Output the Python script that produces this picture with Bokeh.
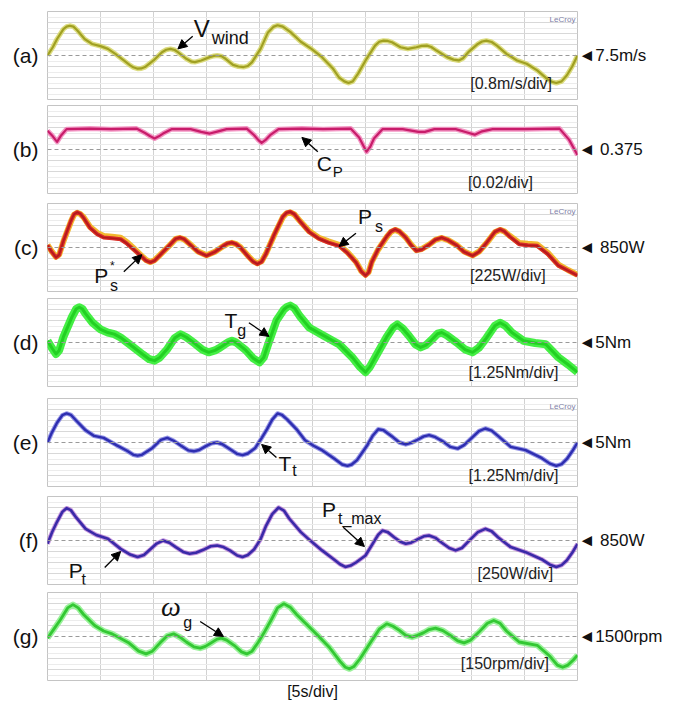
from bokeh.plotting import figure
from bokeh.layouts import column
from bokeh.models import (Range1d, FixedTicker, LinearAxis, Grid, Span, Label, Arrow,
                          NormalHead, CustomJSTickFormatter)
from bokeh.embed import file_html
from bokeh.resources import INLINE
import json

FONT = "Liberation Sans"

# ---------------- data (time in s, values in physical units) ----------------
t_a = [0, 0.5, 0.9, 1.5, 1.8, 2.1, 2.45, 2.8, 3.5, 4.2, 5.0, 5.7, 6.4, 7.2, 7.8, 8.1, 8.5, 8.85, 9.2, 10.0,
       10.8, 11.2, 11.6, 12.0, 12.3, 13.1, 13.6, 13.9, 14.5, 15.3, 15.7, 16.0, 16.4, 16.8, 17.5, 18.0, 18.5, 18.9,
       19.3, 20.1, 20.8, 21.3, 21.7, 22.2, 22.9, 23.9, 24.9, 25.9, 26.9, 27.5, 28.0, 28.4, 28.8, 29.3, 30.1, 30.9,
       31.3, 31.7, 32.1, 32.5, 33.3, 34.0, 34.8, 35.3, 35.8, 36.2, 36.7, 37.7, 38.3, 38.8, 39.2, 39.7, 40.6, 41.0,
       41.4, 41.9, 42.4, 43.3, 44.3, 45.2, 46.2, 47.1, 47.6, 48.0, 48.5, 49.0, 49.5, 50.0]
v_wind = [7.50, 8.10, 8.70, 9.42, 9.60, 9.66, 9.60, 9.34, 8.70, 8.34, 8.18, 7.98, 7.62, 7.14, 6.78, 6.64, 6.54,
          6.56, 6.66, 7.14, 7.74, 7.92, 7.98, 7.90, 7.74, 7.26, 7.05, 7.02, 7.14, 7.38, 7.47, 7.50, 7.45, 7.26,
          6.82, 6.70, 6.66, 6.74, 7.02, 7.98, 9.18, 9.58, 9.70, 9.60, 9.22, 8.50, 7.98, 7.38, 6.58, 5.90, 5.62,
          5.50, 5.62, 6.18, 7.26, 8.22, 8.50, 8.58, 8.56, 8.46, 8.10, 7.98, 8.10, 8.20, 8.22, 8.12, 7.86, 7.38,
          7.20, 7.14, 7.30, 7.74, 8.34, 8.52, 8.58, 8.48, 8.22, 7.62, 7.14, 6.90, 6.42, 5.82, 5.58, 5.50, 5.62,
          6.06, 6.70, 7.50]

t_b = [0, 0.5, 0.9, 1.3, 1.8, 4.0, 6.0, 8.4, 9.2, 9.7, 10.1, 10.5, 10.9, 11.7, 13.5, 14.5, 15.3, 16.1, 16.9, 18.8,
       19.5, 19.9, 20.2, 20.55, 21.0, 21.8, 24.0, 26.0, 28.6, 29.4, 29.8, 30.1, 30.45, 30.8, 31.6, 33.5, 35.0,
       35.6, 36.5, 38.5, 39.6, 40.3, 41.0, 42.0, 45.0, 48.3, 49.2, 50.0]
cp = [0.409, 0.399, 0.389, 0.401, 0.412, 0.413, 0.412, 0.413, 0.405, 0.399, 0.395, 0.399, 0.404, 0.412, 0.412,
      0.407, 0.404, 0.408, 0.412, 0.413, 0.401, 0.392, 0.387, 0.392, 0.401, 0.412, 0.413, 0.412, 0.413, 0.397,
      0.382, 0.371, 0.380, 0.395, 0.412, 0.412, 0.407, 0.407, 0.412, 0.412, 0.406, 0.402, 0.408, 0.412, 0.412,
      0.413, 0.393, 0.365]

t_c = [0, 0.4, 0.8, 1.1, 1.5, 2.2, 2.5, 2.8, 3.1, 3.4, 4.0, 4.7, 5.3, 6.1, 6.9, 7.5, 8.1, 8.9, 9.3, 9.7, 10.1,
       10.5, 11.5, 12.1, 12.5, 12.9, 13.3, 14.2, 15.0, 15.8, 16.6, 17.0, 17.4, 17.8, 18.2, 19.0, 19.4, 19.8, 20.2,
       20.6, 21.4, 22.2, 22.55, 22.9, 23.3, 23.8, 24.7, 25.6, 26.5, 27.5, 28.3, 29.1, 29.6, 30.0, 30.3, 30.6,
       31.2, 32.0, 32.4, 32.8, 33.2, 33.8, 34.3, 34.8, 35.3, 36.0, 36.6, 37.2, 37.8, 38.6, 39.3, 40.1, 40.7, 41.4,
       42.2, 42.7, 43.1, 43.6, 44.5, 45.3, 46.2, 47.2, 48.2, 49.1, 50.0]
p_s = [895, 760, 648, 700, 985, 1390, 1530, 1570, 1540, 1458, 1255, 1120, 1053, 1041, 1019, 929, 816, 659, 580,
       546, 580, 670, 895, 1030, 1053, 1020, 940, 760, 681, 760, 884, 935, 951, 920, 850, 648, 560, 513, 560, 715,
       1120, 1480, 1560, 1581, 1530, 1390, 1165, 1030, 951, 884, 738, 546, 360, 276, 340, 558, 816, 1075, 1180,
       1221, 1180, 1053, 900, 783, 810, 906, 1010, 1053, 1000, 895, 760, 681, 760, 940, 1170, 1221, 1180, 1075,
       918, 895, 884, 715, 479, 378, 276]
p_s_ref = [905, 770, 660, 705, 975, 1375, 1520, 1560, 1535, 1470, 1275, 1150, 1085, 1070, 1050, 960, 840, 675,
           595, 555, 590, 675, 890, 1025, 1045, 1015, 945, 770, 690, 765, 880, 930, 945, 920, 855, 660, 570, 525,
           570, 720, 1110, 1470, 1550, 1570, 1525, 1395, 1180, 1050, 975, 905, 755, 560, 370, 290, 350, 560, 810,
           1065, 1170, 1210, 1175, 1055, 910, 795, 820, 910, 1005, 1045, 1000, 900, 770, 690, 765, 935, 1160, 1210,
           1180, 1090, 945, 925, 910, 740, 500, 390, 290]

t_d = [0, 0.4, 0.8, 1.1, 1.5, 2.3, 2.7, 3.0, 3.3, 3.6, 4.25, 5.0, 5.7, 6.3, 6.9, 7.8, 9.0, 9.6, 10.1, 10.6, 11.3,
       12.0, 12.55, 13.1, 13.9, 14.6, 15.2, 15.8, 16.3, 17.0, 17.4, 17.8, 18.7, 19.4, 20.0, 20.4, 20.8, 21.6,
       22.3, 22.6, 22.9, 23.3, 23.8, 24.7, 26.1, 27.5, 28.8, 29.5, 30.0, 30.4, 31.0, 32.0, 32.6, 33.0, 33.5, 34.1,
       34.7, 35.2, 35.7, 36.2, 36.8, 37.2, 37.7, 38.6, 39.4, 40.1, 40.7, 41.4, 42.2, 42.7, 43.2, 43.8, 44.9, 46.0,
       47.0, 48.2, 49.1, 50.0]
t_gen = [5.19, 4.4, 3.69, 4.1, 5.63, 7.88, 8.8, 9.0, 8.8, 8.25, 7.25, 6.5, 6.13, 5.95, 5.56, 4.75, 3.63, 3.1, 2.94,
         3.3, 4.25, 5.5, 5.94, 5.6, 4.88, 4.2, 3.88, 4.1, 4.44, 5.0, 5.19, 5.0, 4.13, 3.2, 2.75, 3.3, 4.75, 7.5,
         8.75, 9.05, 9.19, 8.9, 8.0, 6.69, 5.75, 4.81, 3.25, 2.2, 1.63, 2.2, 3.5, 5.63, 6.7, 7.06, 6.6, 5.75, 4.8,
         4.44, 4.7, 5.25, 6.0, 6.13, 5.8, 5.0, 4.2, 3.88, 4.4, 5.5, 6.9, 7.25, 6.9, 6.13, 5.19, 4.94, 4.81, 3.31,
         2.5, 1.63]

t_e = [0, 0.4, 0.9, 1.4, 1.8, 2.2, 2.7, 3.6, 4.4, 5.3, 6.5, 7.5, 8.1, 8.5, 8.9, 9.9, 10.7, 11.3, 11.9, 12.6, 13.3,
       13.8, 14.3, 14.9, 15.5, 16.0, 16.5, 17.2, 17.9, 18.4, 18.9, 19.6, 20.2, 20.7, 21.2, 21.7, 22.1, 22.6, 23.5,
       24.3, 25.1, 25.9, 27.1, 27.8, 28.3, 28.7, 29.2, 30.2, 30.7, 31.2, 31.7, 32.5, 33.2, 33.8, 34.3, 34.9, 35.5,
       36.0, 36.6, 37.3, 38.0, 38.7, 39.3, 40.0, 40.7, 41.3, 41.9, 42.5, 43.7, 45.1, 46.6, 47.4, 48.0, 48.5, 49.0,
       49.5, 50.0]
t_tur = [5.0, 6.1, 7.25, 8.1, 8.3, 8.15, 7.5, 6.38, 5.75, 5.53, 4.7, 4.06, 3.6, 3.5, 3.6, 4.38, 5.3, 5.53, 5.2,
         4.63, 4.1, 4.0, 4.15, 4.56, 4.92, 5.0, 4.8, 4.25, 3.7, 3.56, 3.75, 4.38, 5.5, 6.5, 7.6, 8.3, 8.15, 7.63,
         6.5, 5.25, 4.63, 4.13, 3.13, 2.5, 2.35, 2.5, 3.0, 4.75, 5.8, 6.5, 6.4, 5.69, 5.0, 4.78, 4.95, 5.31, 5.7,
         5.84, 5.6, 5.13, 4.5, 4.31, 4.7, 5.5, 6.3, 6.59, 6.35, 5.75, 4.5, 4.13, 3.25, 2.6, 2.35, 2.55, 3.13, 4.0,
         5.0]

t_f = [0, 0.45, 0.9, 1.4, 1.8, 2.2, 2.7, 3.6, 4.6, 5.7, 6.9, 7.8, 8.5, 9.1, 9.7, 10.3, 10.9, 11.5, 12.1, 12.8,
       13.4, 14.0, 14.7, 15.4, 16.0, 16.6, 17.2, 17.9, 18.4, 18.9, 19.5, 20.1, 20.6, 21.2, 21.8, 22.3, 22.8, 23.9,
       24.9, 25.9, 27.0, 27.6, 28.1, 28.6, 29.1, 30.0, 30.8, 31.2, 31.6, 32.1, 32.7, 33.3, 33.8, 34.3, 34.9, 35.5,
       36.0, 36.6, 37.2, 37.9, 38.5, 39.1, 39.9, 40.6, 41.3, 41.9, 42.5, 43.7, 45.1, 46.6, 47.4, 48.0, 48.5, 49.0,
       49.5, 50.0]
p_t = [775, 1050, 1275, 1500, 1585, 1540, 1375, 1115, 975, 888, 660, 530, 475, 520, 650, 780, 850, 800, 700, 590,
       550, 570, 638, 720, 738, 700, 625, 510, 475, 520, 650, 880, 1175, 1450, 1600, 1530, 1350, 1040, 825, 625,
       425, 310, 250, 280, 350, 510, 825, 980, 1075, 1040, 925, 820, 775, 800, 875, 945, 963, 910, 800, 680, 625,
       680, 875, 1040, 1115, 1060, 925, 700, 585, 425, 300, 250, 290, 400, 570, 775]

t_g = [0, 0.6, 1.2, 1.9, 2.4, 2.9, 3.4, 4.45, 5.3, 6.1, 7.7, 8.6, 9.3, 9.9, 10.6, 11.3, 11.9, 12.5, 13.1, 13.8,
       14.4, 14.9, 15.4, 16.0, 16.4, 16.9, 17.6, 18.3, 18.8, 19.3, 19.9, 20.5, 21.1, 21.7, 22.3, 22.9, 23.5, 24.7,
       25.6, 26.6, 27.6, 28.1, 28.5, 28.9, 29.5, 30.5, 31.3, 32.0, 32.6, 33.2, 33.8, 34.4, 34.9, 35.5, 36.0, 36.6,
       37.3, 38.0, 38.7, 39.3, 39.9, 40.7, 41.5, 42.1, 42.7, 43.3, 44.5, 46.2, 47.4, 48.1, 48.6, 49.1, 49.6, 50.0]
w_g = [1478, 1600, 1725, 1890, 1935, 1890, 1800, 1650, 1575, 1536, 1410, 1300, 1263, 1300, 1410, 1510, 1536, 1490,
       1425, 1360, 1341, 1365, 1410, 1465, 1478, 1450, 1380, 1290, 1263, 1300, 1425, 1570, 1725, 1890, 1946, 1900,
       1800, 1628, 1500, 1350, 1160, 1080, 1059, 1090, 1200, 1425, 1600, 1673, 1640, 1583, 1515, 1491, 1515, 1553,
       1595, 1614, 1580, 1515, 1440, 1413, 1450, 1560, 1680, 1718, 1680, 1575, 1425, 1380, 1230, 1110, 1080, 1110,
       1180, 1245]

TAGS = ["(a)", "(b)", "(c)", "(d)", "(e)", "(f)", "(g)"]
REF_TEXT = ["\u25c47.5m/s", "\u25c4 0.375", "\u25c4 850W", "\u25c45Nm", "\u25c45Nm", "\u25c4 850W", "\u25c41500rpm"]
DIV_TEXT = ["[0.8m/s/div]", "[0.02/div]", "[225W/div]", "[1.25Nm/div]", "[1.25Nm/div]", "[250W/div]",
            "[150rpm/div]"]
CENTERS = [7.5, 0.375, 850, 5, 5, 850, 1500]
PER_DIV = [0.8, 0.02, 225, 1.25, 1.25, 250, 150]
TIME_PER_DIV = 5
X_LABEL = "[5s/div]"

# layout (pixels)
BORDERS = [(11, 3), (3, 5), (5, 3), (4, 6), (6, 5), (5, 4), (4, 29)]
FRAME_H = 88
# div-label positions (s, div offset)
DIV_POS = [(47.6, -2.55), (45.8, -3.0), (47.0, -2.55), (48.2, -2.7), (48.2, -3.0), (47.7, -3.0), (47.3, -2.45)]


def ydiv(i, d):
    return CENTERS[i] + d * PER_DIV[i]


def make_panel(i):
    c, s = CENTERS[i], PER_DIV[i]
    top, bot = BORDERS[i]
    p = figure(width=673, height=top + FRAME_H + bot,
               x_range=Range1d(0, 10 * TIME_PER_DIV), y_range=Range1d(c - 4 * s, c + 4 * s),
               x_axis_location=None, y_axis_location=None, toolbar_location=None,
               output_backend="svg", min_border_left=47, min_border_right=96,
               min_border_top=top, min_border_bottom=bot,
               background_fill_color="white", border_fill_color="white",
               outline_line_color="#c4c4c4", outline_line_width=1)
    p.center = [r for r in p.center if not isinstance(r, Grid)]
    p.add_layout(Grid(dimension=0, ticker=FixedTicker(ticks=[k * TIME_PER_DIV for k in range(1, 10)]),
                      grid_line_color="#d2d2d2", grid_line_width=1))
    p.add_layout(Grid(dimension=1,
                      ticker=FixedTicker(ticks=[c + k * s for k in range(-3, 4) if k != 0],
                                         minor_ticks=[c + (k + 0.5) * s for k in range(-4, 4)]),
                      grid_line_color="#d8d8d8", grid_line_width=1,
                      minor_grid_line_color="#ececec", minor_grid_line_width=1))
    p.add_layout(Span(location=c, dimension="width", line_color="#9a9a9a", line_dash="4 3", line_width=1))

    la = LinearAxis(ticker=FixedTicker(ticks=[c]),
                    formatter=CustomJSTickFormatter(code="return %s;" % json.dumps(TAGS[i])),
                    axis_line_color=None, major_tick_line_color=None, minor_tick_line_color=None,
                    major_tick_in=0, major_tick_out=0, major_label_standoff=9,
                    major_label_text_font=FONT, major_label_text_font_size="21px",
                    major_label_text_color="#111111")
    p.add_layout(la, "left")
    ra = LinearAxis(ticker=FixedTicker(ticks=[c]),
                    formatter=CustomJSTickFormatter(code="return %s;" % json.dumps(REF_TEXT[i])),
                    axis_line_color=None, major_tick_line_color=None, minor_tick_line_color=None,
                    major_tick_in=0, major_tick_out=0, major_label_standoff=1,
                    major_label_text_font=FONT, major_label_text_font_size="17px",
                    major_label_text_color="#111111")
    p.add_layout(ra, "right")

    tx, dd = DIV_POS[i]
    p.add_layout(Label(x=tx, y=ydiv(i, dd), text=DIV_TEXT[i], text_font=FONT, text_font_size="16px",
                       text_align="right", text_baseline="middle", text_color="#222222"))
    if i in (0, 2, 4):
        p.add_layout(Label(x=49.8, y=ydiv(i, 3.3), text="LeCroy", text_font=FONT, text_font_size="8px",
                           text_align="right", text_baseline="middle", text_color="#8080a8"))
    return p


def lab(p, i, t, d, text, size, font=FONT, style="normal"):
    p.add_layout(Label(x=t, y=ydiv(i, d), text=text, text_font=font, text_font_size="%dpx" % size,
                       text_font_style=style, text_align="left", text_baseline="middle",
                       text_color="#111111"))


def arr(p, i, t0, d0, t1, d1):
    p.add_layout(Arrow(end=NormalHead(size=9, fill_color="black", line_color="black"),
                       x_start=t0, y_start=ydiv(i, d0), x_end=t1, y_end=ydiv(i, d1),
                       line_color="black", line_width=1.3))


panels = [make_panel(i) for i in range(7)]

# (a) wind speed
pa = panels[0]
pa.line(t_a, v_wind, line_color="#d6d66a", line_width=5, line_join="round", line_alpha=0.85)
pa.line(t_a, v_wind, line_color="#a0a022", line_width=2.2, line_join="round")
lab(pa, 0, 13.8, 2.45, "V", 24)
lab(pa, 0, 15.5, 1.55, "wind", 18)
arr(pa, 0, 13.7, 1.75, 12.3, 0.6)

# (b) Cp
pb = panels[1]
pb.line(t_b, cp, line_color="#f07ab4", line_width=5, line_join="round", line_alpha=0.8)
pb.line(t_b, cp, line_color="#c81c6a", line_width=2.2, line_join="round")
lab(pb, 1, 25.4, -1.27, "C", 21)
lab(pb, 1, 26.9, -2.0, "P", 15)
arr(pb, 1, 25.5, -0.2, 24.0, 1.1)

# (c) Ps and Ps*
pc = panels[2]
pc.line(t_c, p_s_ref, line_color="#f2b830", line_width=6, line_join="round")
pc.line(t_c, p_s, line_color="#d82a2a", line_width=4, line_join="round")
pc.line(t_c, p_s, line_color="#b01a1a", line_width=1.5, line_join="round")
lab(pc, 2, 29.3, 2.8, "P", 21)
lab(pc, 2, 30.9, 1.9, "s", 16)
arr(pc, 2, 29.1, 1.3, 27.5, 0.1)
lab(pc, 2, 4.4, -2.55, "P", 21)
lab(pc, 2, 5.9, -1.7, "*", 12)
lab(pc, 2, 5.9, -3.45, "s", 16)
arr(pc, 2, 7.2, -2.2, 8.9, -0.65)

# (d) Tg
pd = panels[3]
pd.line(t_d, t_gen, line_color="#44ee44", line_width=8, line_join="round")
pd.line(t_d, t_gen, line_color="#22d022", line_width=3, line_join="round")
lab(pd, 3, 16.7, 2.0, "T", 21)
lab(pd, 3, 17.9, 1.1, "g", 16)
arr(pd, 3, 19.0, 1.8, 20.9, 0.55)

# (e) Tt
pe = panels[4]
pe.line(t_e, t_tur, line_color="#7b7be0", line_width=4.5, line_join="round", line_alpha=0.8)
pe.line(t_e, t_tur, line_color="#2e2eb0", line_width=2.4, line_join="round")
lab(pe, 4, 21.8, -1.9, "T", 21)
lab(pe, 4, 23.1, -2.55, "t", 16)
arr(pe, 4, 21.6, -1.36, 20.2, -0.18)

# (f) Pt
pf = panels[5]
pf.line(t_f, p_t, line_color="#a050c8", line_width=4.5, line_join="round", line_alpha=0.6)
pf.line(t_f, p_t, line_color="#3a2aa8", line_width=2.6, line_join="round")
lab(pf, 5, 2.0, -2.7, "P", 21)
lab(pf, 5, 3.2, -3.5, "t", 16)
arr(pf, 5, 5.4, -2.45, 6.9, -1.0)
lab(pf, 5, 25.9, 2.8, "P", 21)
lab(pf, 5, 27.4, 2.0, "t_max", 16)
arr(pf, 5, 27.9, 1.2, 29.9, -0.55)

# (g) omega_g
pg = panels[6]
pg.line(t_g, w_g, line_color="#8ef08e", line_width=6, line_join="round", line_alpha=0.9)
pg.line(t_g, w_g, line_color="#33c833", line_width=2.8, line_join="round")
lab(pg, 6, 10.7, 2.7, "\u03c9", 28, font="Liberation Serif", style="italic")
lab(pg, 6, 12.8, 1.27, "g", 16)
arr(pg, 6, 14.4, 1.36, 16.6, 0.0)

xa = LinearAxis(ticker=FixedTicker(ticks=[]), axis_label=X_LABEL,
                axis_line_color=None, major_tick_line_color=None, minor_tick_line_color=None,
                major_tick_in=0, major_tick_out=0, major_label_text_font_size="0px",
                axis_label_standoff=2, axis_label_text_font=FONT, axis_label_text_font_size="16px",
                axis_label_text_font_style="normal", axis_label_text_color="#111111")
pg.add_layout(xa, "below")

layout = column(*panels, spacing=0)
open("out.html", "w").write(file_html(layout, INLINE))
